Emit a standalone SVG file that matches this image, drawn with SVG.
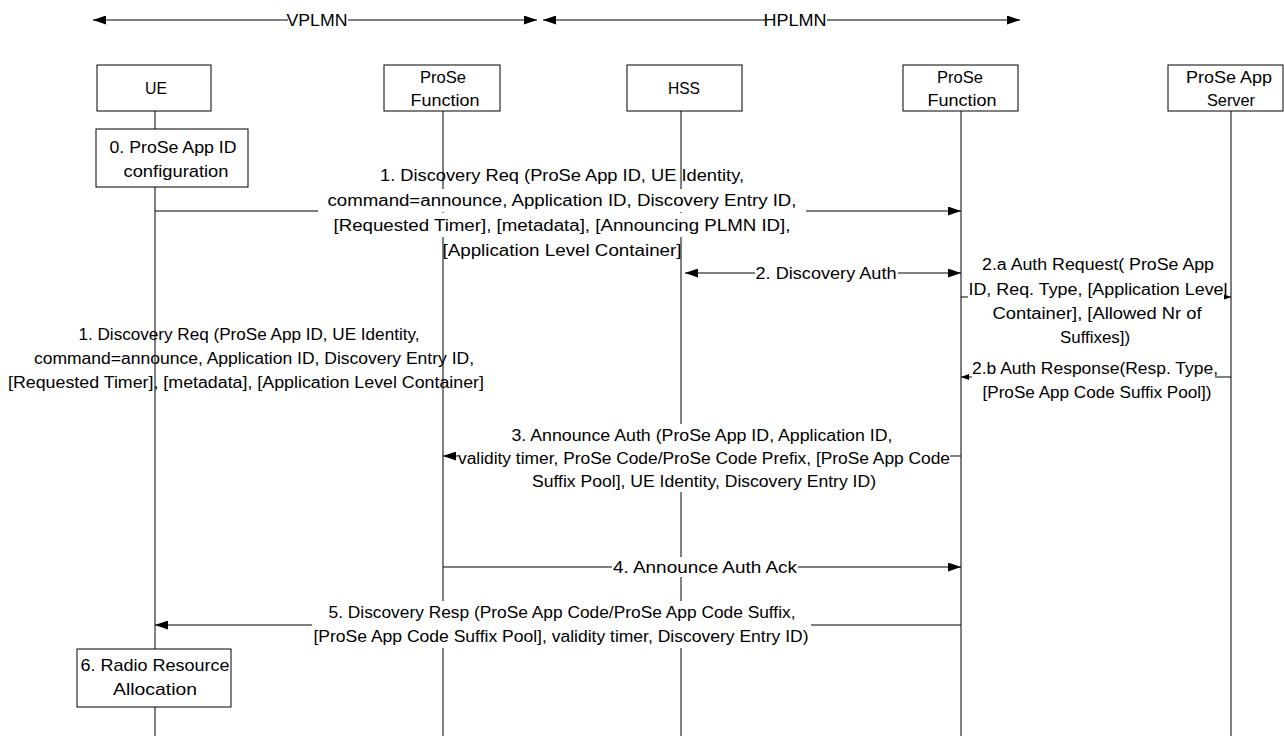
<svg xmlns="http://www.w3.org/2000/svg" width="1284" height="736" viewBox="0 0 1284 736">
<style>
  text { font-family: "Liberation Sans", Arial, sans-serif; font-size: 16px; fill: #000; text-anchor: middle; dominant-baseline: central; }
  .nt { font-size: 17px; }
  .box { fill: #fff; stroke: #000; stroke-width: 1; }
  .life { stroke: #000; stroke-width: 1; fill: none; }
  .msg { stroke: #000; stroke-width: 1; fill: none; }
  .bg { fill: #fff; stroke: none; }
</style>
<defs>
  <marker id="ah" viewBox="0 0 13 9" refX="13" refY="4.5" markerWidth="13" markerHeight="9" markerUnits="userSpaceOnUse" orient="auto-start-reverse">
    <path d="M0,0 L13,4.5 L0,9 Z" fill="#000"/>
  </marker>
  <marker id="ahs" viewBox="0 0 8 6" refX="8" refY="3" markerWidth="8" markerHeight="6" markerUnits="userSpaceOnUse" orient="auto-start-reverse">
    <path d="M0,0 L8,3 L0,6 Z" fill="#000"/>
  </marker>
</defs>
<rect width="1284" height="736" fill="#fff"/>

<g id="lifelines">
  <line class="life" x1="155" y1="111" x2="155" y2="736"/>
  <line class="life" x1="443" y1="111" x2="443" y2="736"/>
  <line class="life" x1="681" y1="111" x2="681" y2="736"/>
  <line class="life" x1="961" y1="111" x2="961" y2="736"/>
  <line class="life" x1="1231" y1="111" x2="1231" y2="736"/>
</g>

<g id="domains">
  <line class="msg" x1="93" y1="20" x2="537" y2="20" marker-start="url(#ah)" marker-end="url(#ah)"/>
  <rect class="bg" x="288" y="10" width="60" height="20"/>
  <text x="317" y="20" textLength="61" lengthAdjust="spacingAndGlyphs">VPLMN</text>
  <line class="msg" x1="543" y1="20" x2="1020" y2="20" marker-start="url(#ah)" marker-end="url(#ah)"/>
  <rect class="bg" x="765" y="10" width="62" height="20"/>
  <text x="795" y="20" textLength="63" lengthAdjust="spacingAndGlyphs">HPLMN</text>
</g>

<g id="node-ue">
  <rect class="box" x="97" y="65" width="114" height="46"/>
  <text class="nt" x="156" y="88" textLength="22" lengthAdjust="spacingAndGlyphs">UE</text>
</g>
<g id="node-prose-v">
  <rect class="box" x="384" y="65" width="116" height="46"/>
  <text class="nt" x="443" y="77" textLength="46" lengthAdjust="spacingAndGlyphs">ProSe</text>
  <text class="nt" x="445" y="100" textLength="69" lengthAdjust="spacingAndGlyphs">Function</text>
</g>
<g id="node-hss">
  <rect class="box" x="627" y="65" width="115" height="46"/>
  <text class="nt" x="684" y="88" textLength="32" lengthAdjust="spacingAndGlyphs">HSS</text>
</g>
<g id="node-prose-h">
  <rect class="box" x="903" y="65" width="115" height="46"/>
  <text class="nt" x="960" y="77" textLength="46" lengthAdjust="spacingAndGlyphs">ProSe</text>
  <text class="nt" x="962" y="100" textLength="69" lengthAdjust="spacingAndGlyphs">Function</text>
</g>
<g id="node-appserver">
  <rect class="box" x="1168" y="65" width="115" height="46"/>
  <text class="nt" x="1229" y="77" textLength="86" lengthAdjust="spacingAndGlyphs">ProSe App</text>
  <text class="nt" x="1231" y="100" textLength="48" lengthAdjust="spacingAndGlyphs">Server</text>
</g>
<g id="node-step0">
  <rect class="box" x="96" y="129" width="152" height="58"/>
  <text class="nt" x="173" y="147" textLength="127" lengthAdjust="spacingAndGlyphs">0. ProSe App ID</text>
  <text class="nt" x="176" y="171" textLength="105" lengthAdjust="spacingAndGlyphs">configuration</text>
</g>
<g id="node-step6">
  <rect class="box" x="77" y="649" width="154" height="58"/>
  <text class="nt" x="155" y="665" textLength="149" lengthAdjust="spacingAndGlyphs">6. Radio Resource</text>
  <text class="nt" x="155" y="689" textLength="84" lengthAdjust="spacingAndGlyphs">Allocation</text>
</g>

<g id="connectors">
  <!-- 1 -->
  <line class="msg" x1="155" y1="211" x2="961" y2="211" marker-end="url(#ah)"/>
  <rect class="bg" x="318" y="189" width="488" height="23"/>
  <rect class="bg" x="330" y="213" width="466" height="24"/>
  <rect class="bg" x="445" y="238" width="234" height="22"/>
  <text x="562" y="175" textLength="364" lengthAdjust="spacingAndGlyphs">1. Discovery Req (ProSe App ID, UE Identity,</text>
  <text x="562" y="200" textLength="469" lengthAdjust="spacingAndGlyphs">command=announce, Application ID, Discovery Entry ID,</text>
  <text x="562" y="225" textLength="457" lengthAdjust="spacingAndGlyphs">[Requested Timer], [metadata], [Announcing PLMN ID],</text>
  <text x="562" y="250" textLength="239" lengthAdjust="spacingAndGlyphs">[Application Level Container]</text>

  <!-- 2 -->
  <line class="msg" x1="685" y1="273" x2="961" y2="273" marker-start="url(#ah)" marker-end="url(#ah)"/>
  <rect class="bg" x="755" y="263" width="143" height="20"/>
  <text x="826" y="273" textLength="141" lengthAdjust="spacingAndGlyphs">2. Discovery Auth</text>

  <!-- 2.a -->
  <line class="msg" x1="961" y1="297" x2="1231" y2="297" marker-end="url(#ahs)"/>
  <rect class="bg" x="968" y="252" width="256" height="97"/>
  <text x="1098" y="264" textLength="232" lengthAdjust="spacingAndGlyphs">2.a Auth Request( ProSe App</text>
  <text x="1098" y="289" textLength="259" lengthAdjust="spacingAndGlyphs">ID, Req. Type, [Application Level</text>
  <text x="1097" y="313" textLength="209" lengthAdjust="spacingAndGlyphs">Container], [Allowed Nr of</text>
  <text x="1095" y="337" textLength="70" lengthAdjust="spacingAndGlyphs">Suffixes])</text>

  <!-- 2.b -->
  <line class="msg" x1="1231" y1="377" x2="961" y2="377" marker-end="url(#ahs)"/>
  <rect class="bg" x="972" y="356" width="243" height="48"/>
  <text x="1095" y="368" textLength="246" lengthAdjust="spacingAndGlyphs">2.b Auth Response(Resp. Type,</text>
  <text x="1097" y="392" textLength="229" lengthAdjust="spacingAndGlyphs">[ProSe App Code Suffix Pool])</text>

  <!-- 3 -->
  <line class="msg" x1="961" y1="456" x2="443" y2="456" marker-end="url(#ah)"/>
  <rect class="bg" x="458" y="424" width="492" height="68"/>
  <text x="702" y="435" textLength="381" lengthAdjust="spacingAndGlyphs">3. Announce Auth (ProSe App ID, Application ID,</text>
  <text x="704" y="458" textLength="492" lengthAdjust="spacingAndGlyphs">validity timer, ProSe Code/ProSe Code Prefix, [ProSe App Code</text>
  <text x="704" y="481" textLength="344" lengthAdjust="spacingAndGlyphs">Suffix Pool], UE Identity, Discovery Entry ID)</text>

  <!-- 4 -->
  <line class="msg" x1="443" y1="567" x2="961" y2="567" marker-end="url(#ah)"/>
  <rect class="bg" x="612" y="557" width="186" height="20"/>
  <text x="705" y="567" textLength="184" lengthAdjust="spacingAndGlyphs">4. Announce Auth Ack</text>

  <!-- 5 -->
  <line class="msg" x1="961" y1="625" x2="155" y2="625" marker-end="url(#ah)"/>
  <rect class="bg" x="312" y="601" width="499" height="47"/>
  <text x="562" y="612" textLength="467" lengthAdjust="spacingAndGlyphs">5. Discovery Resp (ProSe App Code/ProSe App Code Suffix,</text>
  <text x="561" y="636" textLength="495" lengthAdjust="spacingAndGlyphs">[ProSe App Code Suffix Pool], validity timer, Discovery Entry ID)</text>
</g>

<g id="note-left">
  <text x="249" y="334" textLength="341" lengthAdjust="spacingAndGlyphs">1. Discovery Req (ProSe App ID, UE Identity,</text>
  <text x="254" y="358" textLength="440" lengthAdjust="spacingAndGlyphs">command=announce, Application ID, Discovery Entry ID,</text>
  <text x="246" y="382" textLength="476" lengthAdjust="spacingAndGlyphs">[Requested Timer], [metadata], [Application Level Container]</text>
</g>
</svg>
